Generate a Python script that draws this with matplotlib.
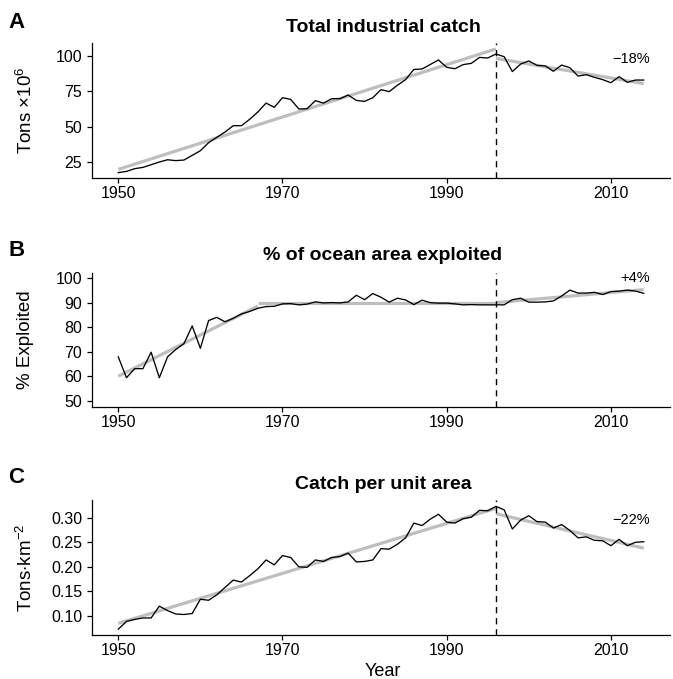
import matplotlib
matplotlib.use("Agg")
import matplotlib.pyplot as plt
import numpy as np

plt.rcParams['font.family'] = ['Liberation Sans', 'DejaVu Sans']
plt.rcParams['mathtext.fontset'] = 'custom'
plt.rcParams['mathtext.rm'] = 'Liberation Sans'
plt.rcParams['mathtext.it'] = 'Liberation Sans:italic'
plt.rcParams['mathtext.bf'] = 'Liberation Sans:bold'

years = list(range(1950, 2015))

catch_total = [17.5, 18.4, 20.3, 21.2, 23.1, 25.0, 26.6, 26.0, 26.4, 29.7,
               33.0, 38.7, 42.5, 46.2, 50.7, 50.7, 55.2, 60.4, 66.7, 63.7,
               70.5, 69.3, 62.5, 62.7, 68.4, 66.7, 69.8, 69.8, 72.4, 68.6,
               67.9, 70.5, 76.2, 74.8, 79.3, 83.3, 90.5, 90.8, 94.0, 97.2,
               92.0, 91.0, 93.9, 94.8, 99.0, 98.6, 101.4, 99.5, 89.0, 94.3,
               96.5, 93.4, 93.0, 89.2, 93.6, 91.7, 85.8, 86.8, 84.9, 83.3,
               81.1, 85.4, 81.4, 83.0, 83.0]

pct_exploited = [67.9, 59.4, 63.1, 63.1, 69.8, 59.4, 67.9, 70.9, 73.3, 80.5,
                 71.4, 82.7, 84.0, 82.2, 83.6, 85.4, 86.4, 87.7, 88.4, 88.5,
                 89.5, 89.6, 89.1, 89.4, 90.3, 89.9, 90.0, 89.9, 90.3, 93.0,
                 91.2, 93.7, 92.2, 90.2, 91.8, 91.1, 89.2, 91.0, 90.0, 89.8,
                 89.8, 89.5, 89.1, 89.2, 89.1, 89.1, 89.1, 89.1, 91.2, 91.8,
                 90.2, 90.2, 90.3, 90.7, 92.7, 95.1, 93.9, 93.9, 94.2, 93.3,
                 94.5, 94.7, 95.1, 94.7, 93.8]

catch_per_area = [0.073, 0.089, 0.093, 0.096, 0.096, 0.120, 0.111, 0.104, 0.103, 0.105,
                  0.134, 0.132, 0.143, 0.158, 0.173, 0.169, 0.182, 0.196, 0.214, 0.204,
                  0.223, 0.219, 0.200, 0.199, 0.214, 0.211, 0.219, 0.221, 0.228, 0.210,
                  0.211, 0.214, 0.237, 0.236, 0.246, 0.259, 0.289, 0.284, 0.297, 0.307,
                  0.291, 0.289, 0.298, 0.301, 0.315, 0.314, 0.323, 0.316, 0.277, 0.295,
                  0.304, 0.292, 0.291, 0.279, 0.286, 0.274, 0.259, 0.261, 0.254, 0.253,
                  0.243, 0.256, 0.243, 0.250, 0.251]

# trend segments
trendA = [([1950, 1996], [19.8, 105.0]), ([1996, 2014], [98.3, 80.5])]
trendB = [([1950, 1967], [60.0, 88.6]), ([1967, 1996], [89.9, 89.9]), ([1996, 2014], [90.0, 95.3])]
trendC = [([1950, 1996], [0.085, 0.319]), ([1996, 2014], [0.308, 0.238])]

break_year = 1996
titles = ["Total industrial catch", "% of ocean area exploited", "Catch per unit area"]
letters = ["A", "B", "C"]
ylabels = [r"Tons $\times$10$^{6}$", "% Exploited", r"Tons$\cdot$km$^{-2}$"]
changes = ["\u221218%", "+4%", "\u221222%"]
change_y = [97.9, 100.0, 0.296]
xticks = [1950, 1970, 1990, 2010]
yticks = [[25, 50, 75, 100], [50, 60, 70, 80, 90, 100], [0.10, 0.15, 0.20, 0.25, 0.30]]
ylims = [(13.7, 109.2), (47.6, 102.2), (0.0613, 0.336)]

W, H = 673, 679
fig = plt.figure(figsize=(W / 100, H / 100), dpi=100)

axes_px = [(92, 670, 43, 178), (92, 670, 272.7, 406.7), (92, 670, 500, 635)]
letter_base = [28, 256.5, 483]
title_base = [32, 260.5, 489]

series = [catch_total, pct_exploited, catch_per_area]
trends = [trendA, trendB, trendC]

for i in range(3):
    l, r, t, b = axes_px[i]
    ax = fig.add_axes([l / W, 1 - b / H, (r - l) / W, (b - t) / H])
    for tx, ty in trends[i]:
        ax.plot(tx, ty, color='#BEBEBE', lw=2.3, solid_capstyle='butt', zorder=1)
    ax.plot(years, series[i], color='black', lw=0.95, zorder=2)
    ax.axvline(break_year, color='black', lw=1.0, ls=(0, (4.5, 3.5)), zorder=3)
    ax.set_xlim(1946.8, 2017.2)
    ax.set_ylim(*ylims[i])
    ax.set_xticks(xticks)
    ax.set_yticks(yticks[i])
    if i == 2:
        ax.set_yticklabels([f"{v:.2f}" for v in yticks[i]])
    for s in ['top', 'right']:
        ax.spines[s].set_visible(False)
    for s in ['left', 'bottom']:
        ax.spines[s].set_linewidth(0.9)
    ax.tick_params(axis='both', direction='out', length=3.5, width=0.9,
                   labelsize=11.5, colors='black')
    ax.tick_params(axis='x', pad=2.5)
    ax.tick_params(axis='y', pad=3.5)
    ax.text(2014.8, change_y[i], changes[i], ha='right', va='center', fontsize=10.5)
    fig.text(383 / W, 1 - title_base[i] / H, titles[i], ha='center', va='baseline',
             fontsize=14, fontweight='bold')
    fig.text(8 / W, 1 - letter_base[i] / H, letters[i], ha='left', va='baseline',
             fontsize=16, fontweight='bold')
    fig.text(26 / W, 1 - ((t + b) / 2) / H, ylabels[i], rotation=90, ha='center',
             va='center', fontsize=13.5)

fig.text(383 / W, 1 - 676.5 / H, "Year", ha='center', va='baseline', fontsize=13)

fig.savefig("out.png", dpi=100)
